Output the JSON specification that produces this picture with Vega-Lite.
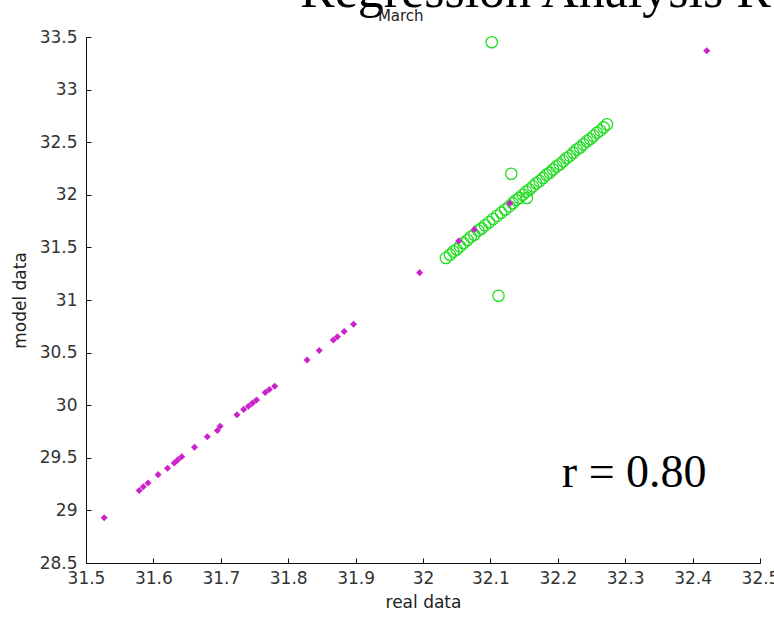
{
  "$schema": "https://vega.github.io/schema/vega-lite/v6.json",
  "width": 674,
  "height": 526,
  "autosize": {"type": "none"},
  "padding": {"left": 86, "top": 37, "right": 14, "bottom": 56},
  "background": "white",
  "config": {
    "view": {"stroke": null},
    "axis": {
      "grid": false,
      "domainColor": "#111",
      "tickColor": "#111",
      "tickSize": -5,
      "labelFont": "DejaVu Sans",
      "labelFontSize": 17,
      "labelColor": "#333",
      "titleFont": "DejaVu Sans",
      "titleFontSize": 17,
      "titleFontWeight": "normal",
      "titleColor": "#222",
      "labelFlush": false,
      "labelOverlap": false
    }
  },
  "datasets": {
    "model": [
      {"real": 32.034, "model": 31.40}, {"real": 32.040, "model": 31.43}, {"real": 32.045, "model": 31.46},
      {"real": 32.050, "model": 31.48}, {"real": 32.055, "model": 31.51}, {"real": 32.060, "model": 31.54},
      {"real": 32.066, "model": 31.57}, {"real": 32.071, "model": 31.60}, {"real": 32.076, "model": 31.62},
      {"real": 32.082, "model": 31.66}, {"real": 32.087, "model": 31.68}, {"real": 32.092, "model": 31.71},
      {"real": 32.098, "model": 31.74}, {"real": 32.104, "model": 31.77}, {"real": 32.110, "model": 31.80},
      {"real": 32.116, "model": 31.83}, {"real": 32.122, "model": 31.86}, {"real": 32.128, "model": 31.89},
      {"real": 32.133, "model": 31.92}, {"real": 32.138, "model": 31.95}, {"real": 32.143, "model": 31.97},
      {"real": 32.148, "model": 32.00}, {"real": 32.153, "model": 32.03}, {"real": 32.158, "model": 32.05},
      {"real": 32.163, "model": 32.08}, {"real": 32.168, "model": 32.11}, {"real": 32.173, "model": 32.13},
      {"real": 32.178, "model": 32.16}, {"real": 32.183, "model": 32.19}, {"real": 32.188, "model": 32.21},
      {"real": 32.193, "model": 32.24}, {"real": 32.198, "model": 32.27}, {"real": 32.203, "model": 32.29},
      {"real": 32.208, "model": 32.32}, {"real": 32.213, "model": 32.35}, {"real": 32.218, "model": 32.37},
      {"real": 32.223, "model": 32.40}, {"real": 32.228, "model": 32.43}, {"real": 32.233, "model": 32.45},
      {"real": 32.238, "model": 32.48}, {"real": 32.243, "model": 32.51}, {"real": 32.248, "model": 32.53},
      {"real": 32.253, "model": 32.56}, {"real": 32.258, "model": 32.59}, {"real": 32.263, "model": 32.61},
      {"real": 32.268, "model": 32.64}, {"real": 32.273, "model": 32.67},
      {"real": 32.102, "model": 33.45}, {"real": 32.131, "model": 32.20}, {"real": 32.112, "model": 31.04},
      {"real": 32.154, "model": 31.97}
    ],
    "real": [
      {"real": 31.527, "model": 28.93}, {"real": 31.579, "model": 29.19}, {"real": 31.585, "model": 29.225},
      {"real": 31.592, "model": 29.26}, {"real": 31.607, "model": 29.34}, {"real": 31.621, "model": 29.40},
      {"real": 31.631, "model": 29.45}, {"real": 31.636, "model": 29.48}, {"real": 31.642, "model": 29.51},
      {"real": 31.661, "model": 29.60}, {"real": 31.680, "model": 29.70}, {"real": 31.695, "model": 29.76},
      {"real": 31.699, "model": 29.80}, {"real": 31.724, "model": 29.91}, {"real": 31.734, "model": 29.96},
      {"real": 31.741, "model": 29.99}, {"real": 31.747, "model": 30.02}, {"real": 31.753, "model": 30.05},
      {"real": 31.766, "model": 30.12}, {"real": 31.772, "model": 30.15}, {"real": 31.780, "model": 30.18},
      {"real": 31.828, "model": 30.43}, {"real": 31.846, "model": 30.52}, {"real": 31.867, "model": 30.62},
      {"real": 31.873, "model": 30.65}, {"real": 31.883, "model": 30.70}, {"real": 31.897, "model": 30.77},
      {"real": 31.995, "model": 31.26}, {"real": 32.053, "model": 31.56}, {"real": 32.076, "model": 31.67},
      {"real": 32.129, "model": 31.92}, {"real": 32.421, "model": 33.37}
    ]
  },
  "layer": [
    {
      "data": {"name": "model"},
      "mark": {"type": "point", "shape": "circle", "filled": false, "size": 130, "stroke": "#22dd22", "strokeWidth": 1.3, "opacity": 1},
      "encoding": {
        "x": {
          "field": "real", "type": "quantitative",
          "scale": {"domain": [31.5, 32.5], "nice": false, "zero": false},
          "axis": {
            "title": "real data",
            "values": [31.5, 31.6, 31.7, 31.8, 31.9, 32, 32.1, 32.2, 32.3, 32.4, 32.5],
            "format": "~g",
            "labelPadding": 12,
            "titlePadding": 8
          }
        },
        "y": {
          "field": "model", "type": "quantitative",
          "scale": {"domain": [28.5, 33.5], "nice": false, "zero": false},
          "axis": {
            "title": "model data",
            "values": [28.5, 29, 29.5, 30, 30.5, 31, 31.5, 32, 32.5, 33, 33.5],
            "format": "~g",
            "labelPadding": 14,
            "titlePadding": 10
          }
        }
      }
    },
    {
      "data": {"name": "real"},
      "mark": {"type": "point", "shape": "diamond", "filled": true, "size": 50, "color": "#cc22cc", "opacity": 1},
      "encoding": {
        "x": {"field": "real", "type": "quantitative"},
        "y": {"field": "model", "type": "quantitative"}
      }
    },
    {
      "data": {"values": [{"label": "Regression Analysis R"}]},
      "mark": {"type": "text", "font": "Liberation Serif", "fontSize": 52, "align": "left", "baseline": "alphabetic", "color": "black"},
      "encoding": {"text": {"field": "label"}, "x": {"datum": 31.8175, "type": "quantitative"}, "y": {"datum": 33.785, "type": "quantitative"}}
    },
    {
      "data": {"values": [{"label": "March"}]},
      "mark": {"type": "text", "font": "DejaVu Sans", "fontSize": 15, "align": "center", "baseline": "alphabetic", "color": "#222"},
      "encoding": {"text": {"field": "label"}, "x": {"datum": 31.967, "type": "quantitative"}, "y": {"datum": 33.655, "type": "quantitative"}}
    },
    {
      "data": {"values": [{"label": "r = 0.80"}]},
      "mark": {"type": "text", "font": "Liberation Serif", "fontSize": 46, "align": "left", "baseline": "alphabetic", "color": "black"},
      "encoding": {"text": {"field": "label"}, "x": {"datum": 32.206, "type": "quantitative"}, "y": {"datum": 29.222, "type": "quantitative"}}
    }
  ]
}
